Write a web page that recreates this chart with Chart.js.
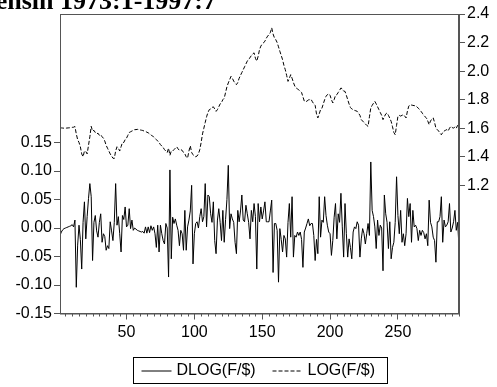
<!DOCTYPE html>
<html>
<head>
<meta charset="utf-8">
<script src="https://cdn.jsdelivr.net/npm/chart.js@4.4.1/dist/chart.umd.min.js"></script>
<style>
  html, body { margin: 0; padding: 0; background: #fff; }
  #wrap { position: relative; width: 497px; height: 387px; overflow: hidden; }
</style>
</head>
<body>
<div id="wrap"><canvas id="chart" width="497" height="387"></canvas></div>
<script>
// monthly data 1973:1 - 1997:7 (295 obs)
const dlogFx = [
  -0.013,-0.007,-0.003,-0.001,0.000,0.001,0.002,0.003,0.004,0.006,
  0.002,0.014,-0.104,-0.030,0.005,-0.020,-0.072,0.010,0.046,-0.019,
  0.020,0.052,0.078,0.055,-0.057,0.010,0.022,-0.005,-0.016,0.010,
  0.025,-0.025,-0.010,-0.015,-0.039,-0.031,-0.036,0.011,-0.005,-0.022,
  0.010,0.078,0.005,0.020,-0.010,-0.042,0.022,0.015,0.037,0.002,
  0.005,0.034,-0.001,0.014,-0.004,0.000,-0.002,-0.004,-0.005,-0.006,
  -0.007,-0.006,-0.009,0.002,-0.009,0.002,-0.008,0.004,-0.004,0.002,
  -0.010,-0.034,0.005,-0.042,0.005,-0.010,-0.022,-0.028,0.008,0.000,
  -0.086,0.102,-0.054,0.019,0.008,0.016,0.005,-0.004,-0.031,-0.004,
  -0.010,-0.039,0.031,-0.039,0.002,0.014,0.030,0.075,-0.063,-0.010,
  0.008,0.011,0.000,0.020,0.034,0.011,0.020,0.078,0.002,0.058,
  0.055,0.025,0.010,0.046,-0.022,-0.045,0.014,0.034,0.010,-0.022,
  0.031,-0.025,0.015,0.050,0.110,-0.001,0.025,0.016,0.010,-0.025,
  -0.045,0.031,0.011,0.030,0.058,0.014,0.011,0.040,0.025,0.010,
  -0.019,0.031,0.011,0.043,0.020,-0.072,0.043,0.011,0.037,0.016,
  0.030,0.046,0.011,0.011,0.011,0.030,0.049,-0.078,0.008,0.008,
  -0.004,-0.095,-0.001,-0.020,-0.042,-0.013,-0.019,-0.051,0.010,0.043,
  -0.016,0.055,-0.051,-0.013,-0.016,-0.007,-0.013,-0.007,-0.020,-0.069,
  -0.007,0.000,0.008,0.016,0.004,0.008,0.008,-0.013,-0.057,-0.020,
  -0.045,0.055,-0.016,0.014,0.010,0.055,0.022,0.005,-0.007,-0.010,
  -0.048,-0.022,0.019,0.043,-0.019,0.025,0.010,0.061,0.002,-0.051,
  0.043,-0.010,-0.051,-0.019,-0.034,-0.054,-0.007,0.002,-0.001,0.011,
  0.005,-0.051,-0.019,-0.001,-0.010,-0.028,-0.010,0.008,-0.013,0.116,
  0.031,0.020,0.002,-0.036,0.014,-0.013,0.005,0.000,-0.075,0.058,
  0.025,0.010,-0.036,0.011,-0.054,-0.034,-0.025,0.010,0.090,0.022,
  -0.010,0.031,-0.025,-0.010,-0.031,-0.010,0.052,0.020,0.043,-0.025,
  0.031,0.002,0.005,-0.001,-0.022,-0.004,-0.013,-0.004,-0.008,-0.019,
  -0.010,-0.031,0.049,0.010,0.002,-0.016,-0.022,-0.060,0.011,0.011,
  0.020,0.055,-0.025,0.014,0.002,0.005,0.011,0.043,-0.007,0.000,
  0.011,0.031,-0.004,0.010,-0.034
];

const logFx = [
  1.604,1.602,1.601,1.600,1.600,1.601,1.602,1.603,1.604,1.606,
  1.607,1.612,1.560,1.520,1.500,1.470,1.420,1.400,1.440,1.437,
  1.420,1.480,1.540,1.613,1.580,1.585,1.570,1.560,1.565,1.550,
  1.555,1.540,1.530,1.510,1.480,1.460,1.440,1.420,1.405,1.390,
  1.388,1.440,1.470,1.460,1.440,1.470,1.500,1.500,1.520,1.530,
  1.550,1.570,1.575,1.580,1.585,1.590,1.590,1.592,1.590,1.588,
  1.586,1.584,1.580,1.578,1.572,1.568,1.560,1.555,1.545,1.540,
  1.530,1.520,1.510,1.500,1.485,1.475,1.465,1.450,1.440,1.430,
  1.460,1.410,1.440,1.440,1.450,1.460,1.470,1.455,1.445,1.450,
  1.445,1.430,1.420,1.400,1.390,1.440,1.477,1.430,1.414,1.405,
  1.400,1.405,1.420,1.450,1.500,1.560,1.600,1.640,1.680,1.710,
  1.730,1.735,1.745,1.750,1.735,1.718,1.730,1.750,1.770,1.780,
  1.800,1.810,1.850,1.890,1.917,1.940,1.963,1.950,1.930,1.915,
  1.905,1.920,1.950,1.970,1.990,2.010,2.030,2.050,2.070,2.085,
  2.093,2.110,2.120,2.128,2.090,2.070,2.104,2.150,2.175,2.190,
  2.198,2.210,2.230,2.245,2.256,2.270,2.303,2.260,2.233,2.220,
  2.200,2.170,2.139,2.110,2.080,2.040,2.010,1.970,1.928,1.950,
  1.975,1.950,1.920,1.895,1.882,1.875,1.868,1.860,1.850,1.820,
  1.790,1.785,1.790,1.798,1.800,1.802,1.785,1.770,1.760,1.700,
  1.672,1.700,1.730,1.740,1.770,1.800,1.823,1.835,1.842,1.830,
  1.800,1.777,1.800,1.830,1.835,1.850,1.865,1.882,1.875,1.860,
  1.858,1.830,1.800,1.770,1.745,1.735,1.730,1.725,1.722,1.718,
  1.705,1.690,1.660,1.650,1.640,1.630,1.620,1.613,1.680,1.742,
  1.760,1.775,1.788,1.770,1.750,1.730,1.710,1.690,1.660,1.680,
  1.700,1.707,1.690,1.670,1.648,1.610,1.570,1.554,1.620,1.683,
  1.690,1.685,1.690,1.695,1.685,1.672,1.720,1.755,1.765,1.762,
  1.760,1.758,1.758,1.750,1.740,1.730,1.718,1.705,1.690,1.680,
  1.672,1.650,1.625,1.650,1.665,1.672,1.640,1.600,1.590,1.580,
  1.565,1.554,1.570,1.580,1.585,1.590,1.580,1.600,1.613,1.605,
  1.600,1.610,1.600,1.620,1.610
];

const seriesNames = ['DLOG(F/$)', 'LOG(F/$)'];
const xTicks = [50, 100, 150, 200, 250];
const leftTicks = [-0.15, -0.10, -0.05, 0.00, 0.05, 0.10, 0.15];
const rightTicks = [1.2, 1.4, 1.6, 1.8, 2.0, 2.2, 2.4];
const titleText = 'ensin 1973:1-1997:7';

const FONT = '"Liberation Sans", Arial, sans-serif';
const AXIS = '#555';

function toPoints(arr) {
  return arr.map((v, i) => ({ x: i + 1, y: v }));
}

// frame, minor x ticks, boxed legend and the cut-off title
const decor = {
  id: 'decor',
  afterDraw(chart) {
    const { ctx, chartArea: a, scales } = chart;
    ctx.save();
    ctx.strokeStyle = AXIS;
    ctx.lineWidth = 1;
    ctx.strokeRect(a.left + 0.5, a.top + 0.5, a.right - a.left - 1, a.bottom - a.top);

    // minor ticks every 5
    ctx.beginPath();
    for (let v = 5; v <= 295; v += 5) {
      if (v % 50 === 0) continue;
      const px = Math.round(scales.x.getPixelForValue(v)) + 0.5;
      ctx.moveTo(px, a.bottom);
      ctx.lineTo(px, a.bottom + 3);
    }
    ctx.stroke();

    // legend
    ctx.font = '16px ' + FONT;
    ctx.textBaseline = 'middle';
    const lx = 133.5, ly = 357.5, lw = 254, lh = 26;
    ctx.strokeStyle = '#000';
    ctx.strokeRect(lx, ly, lw, lh);
    const cy = ly + lh / 2 + 0.5;
    ctx.fillStyle = '#000';
    ctx.beginPath();
    ctx.moveTo(lx + 8, cy); ctx.lineTo(lx + 38, cy);
    ctx.stroke();
    ctx.fillText(seriesNames[0], lx + 43, cy);
    ctx.setLineDash([4, 2]);
    ctx.beginPath();
    ctx.moveTo(lx + 139, cy); ctx.lineTo(lx + 169, cy);
    ctx.stroke();
    ctx.setLineDash([]);
    ctx.fillText(seriesNames[1], lx + 174, cy);

    // title, top half off the page
    ctx.font = 'bold 26px "Liberation Serif", "Times New Roman", serif';
    ctx.textAlign = 'right';
    ctx.textBaseline = 'alphabetic';
    ctx.fillText(titleText, 216, 9);
    ctx.restore();
  }
};

const axisCommon = {
  grid: { drawOnChartArea: false, drawTicks: true, tickLength: 6, color: AXIS },
  border: { display: true, color: AXIS },
  ticks: { color: '#000', font: { size: 16, family: FONT }, padding: 2 }
};

new Chart(document.getElementById('chart'), {
  type: 'line',
  data: {
    datasets: [
      {
        label: seriesNames[0],
        data: toPoints(dlogFx),
        yAxisID: 'y',
        borderColor: '#000',
        borderWidth: 1,
        pointRadius: 0,
        tension: 0
      },
      {
        label: seriesNames[1],
        data: toPoints(logFx),
        yAxisID: 'y2',
        borderColor: '#000',
        borderWidth: 1,
        borderDash: [4, 2],
        pointRadius: 0,
        tension: 0
      }
    ]
  },
  options: {
    responsive: false,
    animation: false,
    layout: { padding: { top: 14, left: 0, right: 0, bottom: 0 } },
    plugins: { legend: { display: false }, tooltip: { enabled: false } },
    scales: {
      x: {
        type: 'linear',
        min: 1,
        max: 295,
        ...axisCommon,
        ticks: { ...axisCommon.ticks, padding: 3, maxRotation: 0 },
        afterBuildTicks: s => { s.ticks = xTicks.map(v => ({ value: v })); },
        afterFit: s => { s.height = 73.5; }
      },
      y: {
        type: 'linear',
        position: 'left',
        min: -0.15,
        max: 0.3757,
        ...axisCommon,
        ticks: { ...axisCommon.ticks, callback: v => v.toFixed(2) },
        afterBuildTicks: s => { s.ticks = leftTicks.map(v => ({ value: v })); },
        afterFit: s => { s.width = 60; }
      },
      y2: {
        type: 'linear',
        position: 'right',
        min: 0.302,
        max: 2.4,
        ...axisCommon,
        ticks: { ...axisCommon.ticks, callback: v => v.toFixed(1) },
        afterBuildTicks: s => { s.ticks = rightTicks.map(v => ({ value: v })); },
        afterFit: s => { s.width = 38; }
      }
    }
  },
  plugins: [decor]
});
</script>
</body>
</html>
